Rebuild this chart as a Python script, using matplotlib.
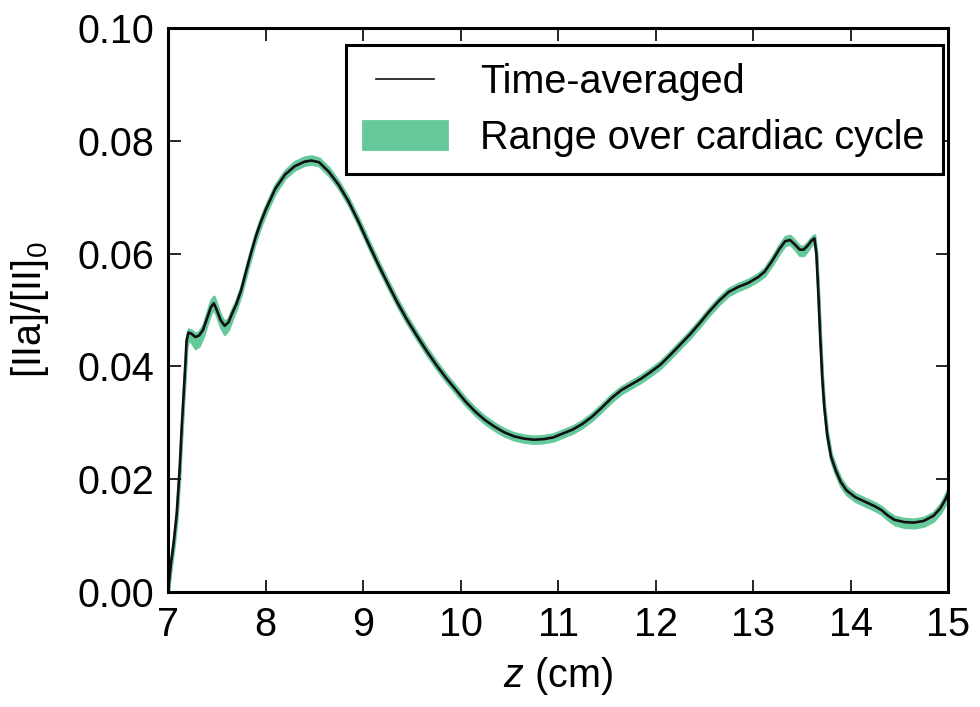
import matplotlib
matplotlib.use("Agg")
import matplotlib.pyplot as plt
import numpy as np
from matplotlib.legend_handler import HandlerLine2D

plt.rcParams['font.family'] = ['Liberation Sans', 'DejaVu Sans']
plt.rcParams['mathtext.fontset'] = 'custom'
plt.rcParams['mathtext.rm'] = 'Liberation Sans'
plt.rcParams['mathtext.it'] = 'Liberation Sans:italic'

# axial position (cm)
z = [7.00, 7.03, 7.06, 7.09, 7.12, 7.14, 7.16, 7.18, 7.19, 7.21,
     7.24, 7.28, 7.32, 7.36, 7.40, 7.44, 7.47, 7.50, 7.54, 7.58,
     7.62, 7.66, 7.70, 7.75, 7.80, 7.85, 7.90, 7.95, 8.00, 8.10,
     8.20, 8.30, 8.40, 8.47, 8.55, 8.65, 8.75, 8.85, 8.95, 9.05,
     9.15, 9.25, 9.35, 9.45, 9.55, 9.65, 9.75, 9.85, 9.95, 10.05,
     10.15, 10.25, 10.35, 10.45, 10.55, 10.65, 10.75, 10.85, 10.95, 11.05,
     11.15, 11.25, 11.35, 11.45, 11.55, 11.65, 11.75, 11.85, 11.95, 12.05,
     12.15, 12.25, 12.35, 12.45, 12.55, 12.65, 12.75, 12.85, 12.95, 13.05,
     13.12, 13.20, 13.27, 13.33, 13.38, 13.43, 13.48, 13.52, 13.56, 13.60,
     13.63, 13.65, 13.67, 13.69, 13.71, 13.73, 13.76, 13.80, 13.85, 13.90,
     13.96, 14.05, 14.15, 14.25, 14.32, 14.38, 14.45, 14.55, 14.65, 14.75,
     14.85, 14.92, 14.97, 15.00]

# time-averaged [IIa]/[II]0
avg = [0.0000, 0.0050, 0.0090, 0.0140, 0.0220, 0.0290, 0.0350, 0.0410, 0.0445, 0.0460,
       0.0458, 0.0452, 0.0455, 0.0465, 0.0485, 0.0505, 0.0512, 0.0500, 0.0482, 0.0472,
       0.0478, 0.0495, 0.0510, 0.0535, 0.0568, 0.0600, 0.0630, 0.0655, 0.0677, 0.0715,
       0.0740, 0.0755, 0.0763, 0.0765, 0.0762, 0.0745, 0.0722, 0.0693, 0.0658, 0.0620,
       0.0583, 0.0548, 0.0514, 0.0483, 0.0455, 0.0428, 0.0403, 0.0380, 0.0359, 0.0338,
       0.0320, 0.0305, 0.0293, 0.0283, 0.0276, 0.0272, 0.0270, 0.0271, 0.0274, 0.0281,
       0.0288, 0.0298, 0.0311, 0.0327, 0.0344, 0.0358, 0.0368, 0.0378, 0.0390, 0.0403,
       0.0420, 0.0438, 0.0456, 0.0476, 0.0497, 0.0516, 0.0532, 0.0541, 0.0548, 0.0558,
       0.0568, 0.0588, 0.0608, 0.0622, 0.0624, 0.0616, 0.0607, 0.0607, 0.0614, 0.0623,
       0.0627, 0.0600, 0.0530, 0.0450, 0.0380, 0.0330, 0.0280, 0.0240, 0.0215, 0.0195,
       0.0180, 0.0168, 0.0160, 0.0152, 0.0145, 0.0136, 0.0128, 0.0124, 0.0123, 0.0126,
       0.0135, 0.0148, 0.0163, 0.0175]

# spread below / above the average over the cardiac cycle
below = [0.0005, 0.0008, 0.0010, 0.0012, 0.0012, 0.0012, 0.0012, 0.0012, 0.0012, 0.0012,
         0.0015, 0.0020, 0.0018, 0.0012, 0.0010, 0.0010, 0.0010, 0.0010, 0.0012, 0.0015,
         0.0012, 0.0010, 0.0008, 0.0007, 0.0007, 0.0007, 0.0007, 0.0007, 0.0007, 0.0007,
         0.0006, 0.0006, 0.0006, 0.0006, 0.0006, 0.0006, 0.0006, 0.0006, 0.0006, 0.0006,
         0.0006, 0.0006, 0.0006, 0.0006, 0.0006, 0.0006, 0.0006, 0.0006, 0.0006, 0.0006,
         0.0006, 0.0006, 0.0006, 0.0006, 0.0006, 0.0006, 0.0006, 0.0006, 0.0006, 0.0006,
         0.0006, 0.0006, 0.0006, 0.0006, 0.0006, 0.0006, 0.0006, 0.0006, 0.0006, 0.0006,
         0.0006, 0.0006, 0.0006, 0.0006, 0.0006, 0.0006, 0.0006, 0.0006, 0.0006, 0.0006,
         0.0007, 0.0007, 0.0007, 0.0007, 0.0007, 0.0008, 0.0010, 0.0010, 0.0008, 0.0007,
         0.0007, 0.0007, 0.0007, 0.0007, 0.0007, 0.0007, 0.0007, 0.0007, 0.0007, 0.0007,
         0.0007, 0.0007, 0.0007, 0.0007, 0.0007, 0.0007, 0.0008, 0.0009, 0.0009, 0.0009,
         0.0009, 0.0008, 0.0008, 0.0008]
above = [0.0003, 0.0005, 0.0006, 0.0006, 0.0006, 0.0006, 0.0006, 0.0006, 0.0006, 0.0006,
         0.0006, 0.0006, 0.0007, 0.0008, 0.0010, 0.0012, 0.0012, 0.0010, 0.0008, 0.0007,
         0.0007, 0.0007, 0.0007, 0.0007, 0.0007, 0.0007, 0.0007, 0.0007, 0.0007, 0.0007,
         0.0007, 0.0008, 0.0008, 0.0008, 0.0007, 0.0007, 0.0006, 0.0006, 0.0006, 0.0006,
         0.0006, 0.0006, 0.0006, 0.0006, 0.0006, 0.0006, 0.0006, 0.0006, 0.0006, 0.0006,
         0.0006, 0.0006, 0.0006, 0.0006, 0.0006, 0.0006, 0.0006, 0.0006, 0.0006, 0.0006,
         0.0006, 0.0006, 0.0006, 0.0006, 0.0006, 0.0006, 0.0006, 0.0006, 0.0006, 0.0006,
         0.0006, 0.0006, 0.0006, 0.0006, 0.0006, 0.0006, 0.0006, 0.0006, 0.0006, 0.0006,
         0.0006, 0.0007, 0.0007, 0.0008, 0.0008, 0.0007, 0.0006, 0.0006, 0.0006, 0.0006,
         0.0006, 0.0006, 0.0006, 0.0006, 0.0006, 0.0006, 0.0006, 0.0006, 0.0006, 0.0006,
         0.0006, 0.0006, 0.0006, 0.0006, 0.0006, 0.0006, 0.0006, 0.0006, 0.0006, 0.0006,
         0.0006, 0.0007, 0.0008, 0.0008]

green = "#66c99b"
fs = 28.5


class ShortLine(HandlerLine2D):
    # legend line a bit shorter than the patch next to it
    def create_artists(self, legend, orig_handle, xdescent, ydescent,
                       width, height, fontsize, trans):
        pad = width * 0.15
        return super().create_artists(legend, orig_handle, xdescent - pad,
                                      ydescent, width - 2 * pad, height,
                                      fontsize, trans)


z = np.array(z)
avg = np.array(avg)
lo = avg - np.array(below)
hi = avg + np.array(above)

fig = plt.figure(figsize=(9.8, 7.07), dpi=100)
ax = fig.add_axes([168 / 980, 1 - 592 / 707, 780 / 980, 564 / 707])

ax.fill_between(z, lo, hi, color=green, linewidth=2.0, edgecolor=green,
                label="Range over cardiac cycle")
line, = ax.plot(z, avg, color="#111111", linewidth=1.9, label="Time-averaged")

ax.set_xlim(7, 15)
ax.set_ylim(0, 0.10)
ax.set_xticks(np.arange(7, 16, 1))
ax.set_yticks(np.arange(0, 0.101, 0.02))
ax.set_yticklabels(["%.2f" % v for v in np.arange(0, 0.101, 0.02)])

ax.tick_params(direction="in", top=True, right=True, length=9, width=1.2,
               labelsize=fs, pad=10)
for sp in ax.spines.values():
    sp.set_linewidth(2.2)

ax.set_xlabel("$z$ (cm)", fontsize=fs)
ax.set_ylabel("[IIa]/[II]$_0$", fontsize=fs)
ax.xaxis.set_label_coords(0.5, -0.112)
ax.yaxis.set_label_coords(-0.15, 0.5)

handles, labels = ax.get_legend_handles_labels()
leg = ax.legend(handles[::-1], labels[::-1], loc="upper right",
                bbox_to_anchor=(0.993, 0.97), borderaxespad=0,
                fontsize=fs, fancybox=False, handlelength=2.1,
                handletextpad=0.85, borderpad=0.45, labelspacing=0.45,
                handler_map={line: ShortLine()})
leg.get_frame().set_edgecolor("black")
leg.get_frame().set_linewidth(2.2)
leg.get_frame().set_alpha(1)
leg.legend_handles[0].set_linewidth(1.2)

fig.savefig("out.png", dpi=100)
